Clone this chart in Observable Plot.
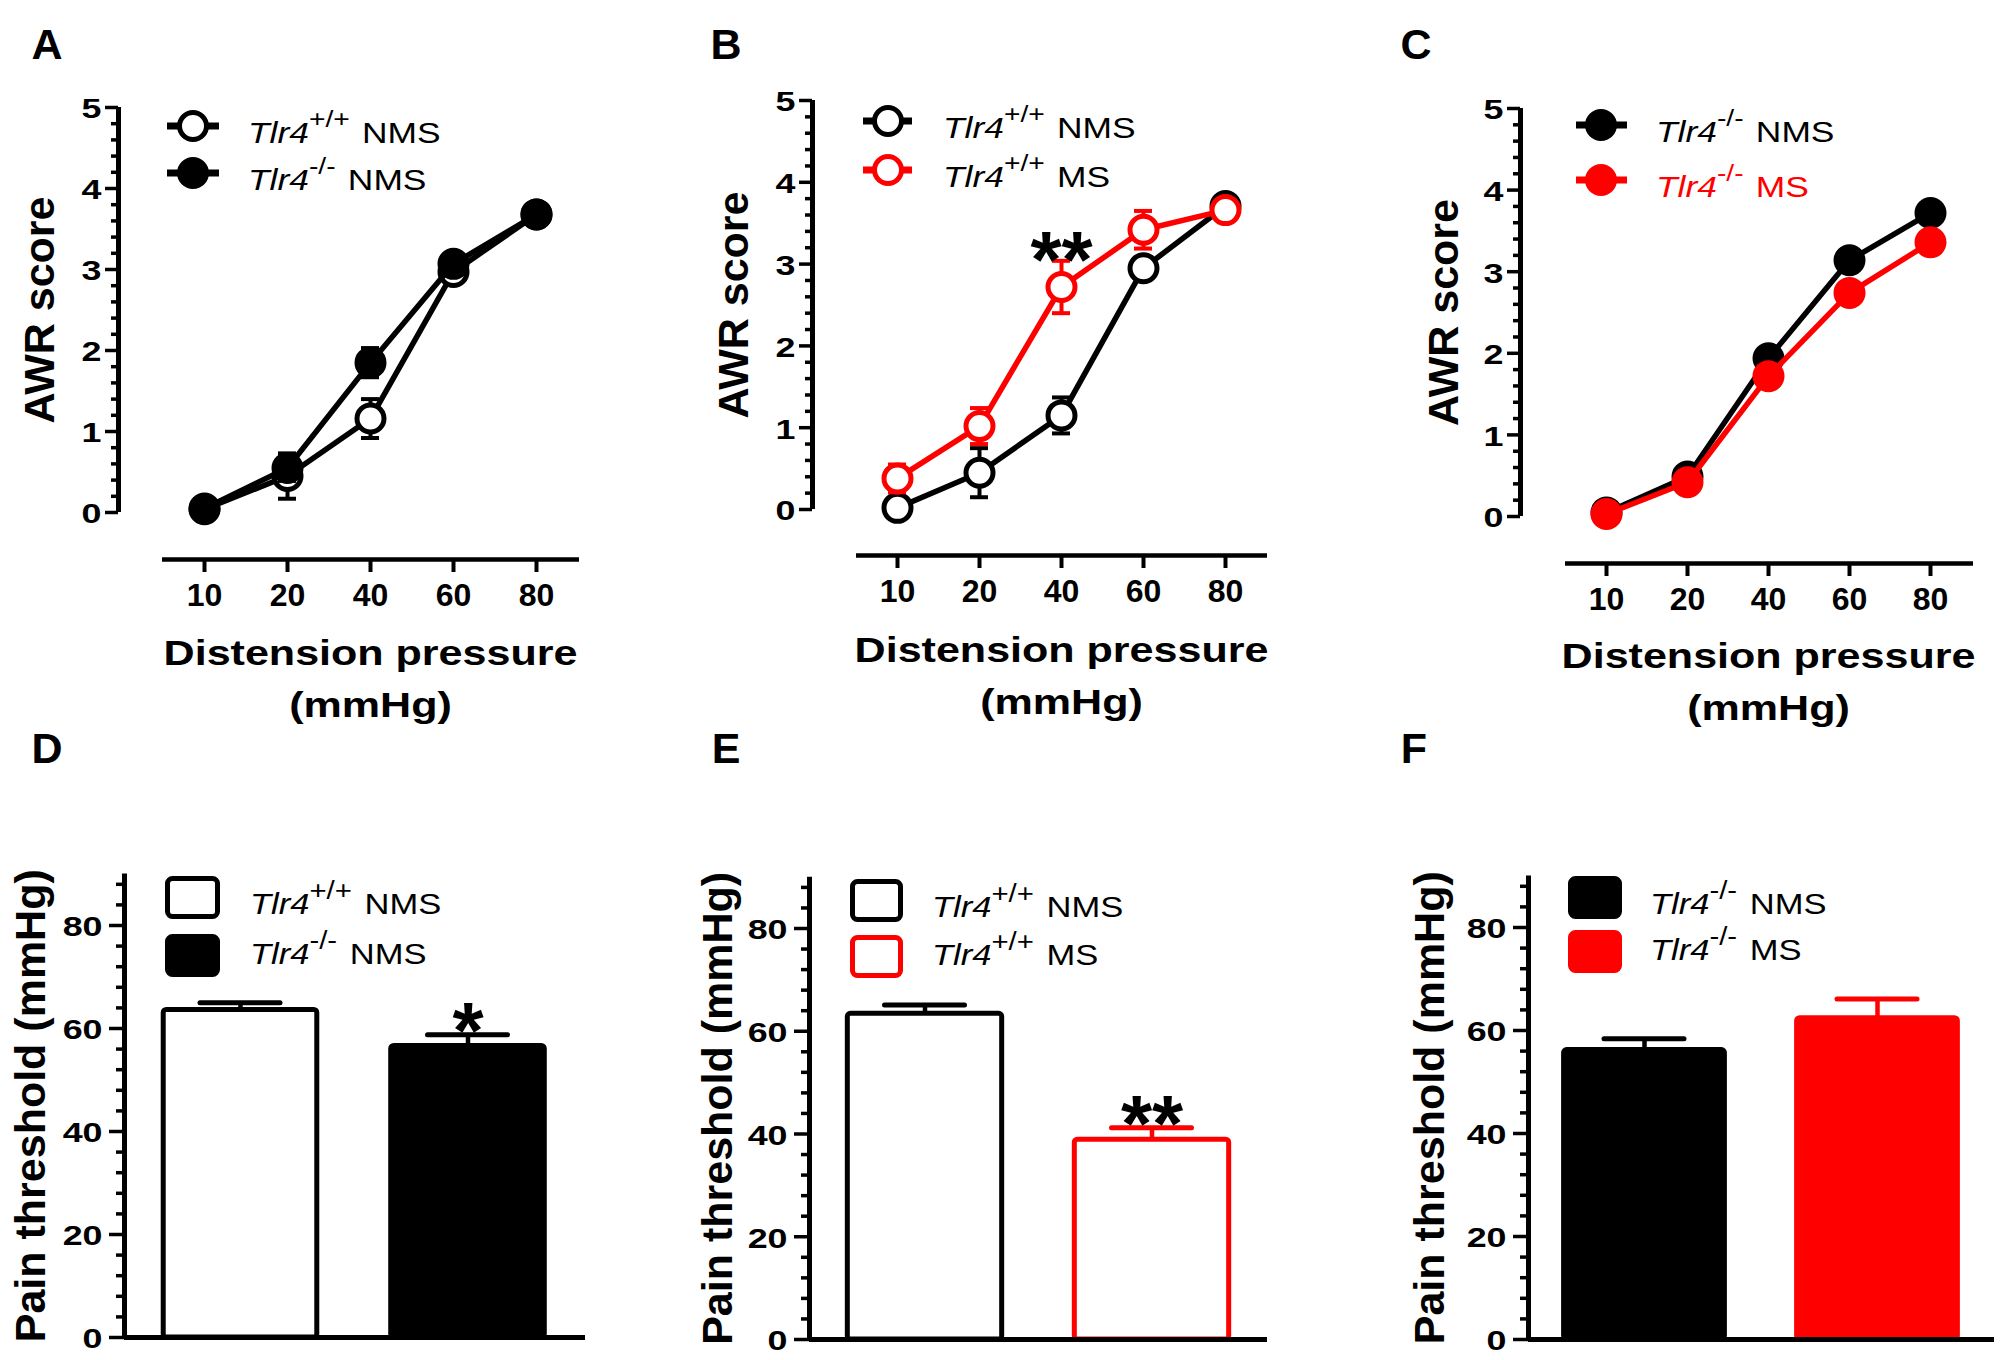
<!DOCTYPE html>
<html>
<head>
<meta charset="utf-8">
<script src="https://cdn.jsdelivr.net/npm/d3@7"></script>
<script src="https://cdn.jsdelivr.net/npm/@observablehq/plot@0.6"></script>
<style>
html, body { margin: 0; padding: 0; background: #fff; }
#fig { position: relative; width: 2005px; height: 1360px; overflow: hidden; background: #fff;
  font-family: "Liberation Sans", Arial, Helvetica, sans-serif; color: #000; }
.panel { position: absolute; }
.letter { position: absolute; font-weight: bold; font-size: 43px; line-height: 1; transform: translate(-50%, -50%); }
.leg-text { position: absolute; line-height: 1; white-space: nowrap; transform-origin: 0 50%; }
.leg-text i { font-style: italic; }
.leg-text sup { line-height: 0; }
</style>
</head>
<body>
<div id="fig"></div>
<script>
// ---------------- data ----------------
const pressures = ["10", "20", "40", "60", "80"];

// Panel A
const aWtNMS    = [0.04, 0.45, 1.16, 2.97, 3.68];
const aWtNMSErr = [0.03, 0.28, 0.24, 0.08, 0.07];
const aKoNMS    = [0.05, 0.55, 1.85, 3.07, 3.68];
const aKoNMSErr = [0.03, 0.16, 0.18, 0.10, 0.07];

// Panel B
const bWtNMS    = [0.02, 0.45, 1.15, 2.95, 3.71];
const bWtNMSErr = [0.02, 0.30, 0.22, 0.10, 0.06];
const bWtMS     = [0.38, 1.02, 2.72, 3.42, 3.66];
const bWtMSErr  = [0.17, 0.22, 0.32, 0.23, 0.06];

// Panel C
const cKoNMS    = [0.05, 0.49, 1.94, 3.14, 3.72];
const cKoNMSErr = [0.03, 0.08, 0.10, 0.10, 0.08];
const cKoMS     = [0.03, 0.42, 1.72, 2.74, 3.36];
const cKoMSErr  = [0.02, 0.08, 0.10, 0.12, 0.10];

// Panels D-F (pain threshold, mmHg)
const dThreshold = [63.6, 56.6];
const dErr       = [1.4, 2.2];
const eThreshold = [63.4, 38.9];
const eErr       = [1.7, 2.3];
const fThreshold = [56.2, 62.4];
const fErr       = [2.2, 3.7];

const yTicksAWR = [0, 1, 2, 3, 4, 5];
const yTicksPain = [0, 20, 40, 60, 80];

const BLACK = "#000000", RED = "#ff0000";

const gWtNMS = {geno: "+/+", cond: "NMS"};
const gKoNMS = {geno: "-/-", cond: "NMS"};
const gWtMS  = {geno: "+/+", cond: "MS"};
const gKoMS  = {geno: "-/-", cond: "MS"};

// ---------------- helpers ----------------
const fig = document.getElementById("fig");
const FONT = '"Liberation Sans", Arial, Helvetica, sans-serif';
const baseStyle = {fontFamily: FONT, fontSize: "32px", fontWeight: "bold", background: "transparent",
  overflow: "visible", maxWidth: "none", color: "#000"};

// horizontally widen the text of the text marks drawn at a given (unique) font size
function stretch(svg, fontSize, sx) {
  svg.querySelectorAll(`g[font-size="${fontSize}"] text`).forEach(t => {
    const tr = t.getAttribute("transform") || "";
    t.setAttribute("transform", `${tr} scale(${sx},1)`);
  });
}
function addPlot(svg, left, top) {
  const wrap = document.createElement("div");
  wrap.className = "panel";
  wrap.style.left = left + "px";
  wrap.style.top = top + "px";
  wrap.appendChild(svg);
  fig.appendChild(wrap);
}
function addLetter(ch, x, y) {
  const d = document.createElement("div");
  d.className = "letter";
  d.textContent = ch;
  d.style.left = x + "px";
  d.style.top = y + "px";
  fig.appendChild(d);
}
function legendText(g, x, y, color, T) {
  const d = document.createElement("div");
  d.className = "leg-text";
  d.style.left = x + "px";
  d.style.top = y + "px";
  d.style.color = color;
  d.style.fontSize = T.size + "px";
  d.style.transform = `translateY(-50%) scaleX(${T.sx})`;
  d.innerHTML = `<i>Tlr4</i><sup style="font-size:${T.sup}em;vertical-align:${T.raise}px;margin-right:${T.gap}px">${g.geno}</sup>${g.cond}`;
  fig.appendChild(d);
}
const topLegendText = {size: 29, sx: 1.22, sup: 0.8, raise: 16, gap: 10};
const botLegendText = {size: 30, sx: 1.15, sup: 0.85, raise: 15, gap: 11};

function lineLegend(series, L) {
  series.forEach((s, k) => {
    const y = L.rows[k];
    const w = L.marker[1] - L.marker[0];
    const cx = L.circle - L.marker[0] + 3;
    fig.insertAdjacentHTML("beforeend",
      `<svg width="${w + 6}" height="40" style="position:absolute;left:${L.marker[0] - 3}px;top:${y - 20}px;overflow:visible">
        <line x1="3" x2="${w + 3}" y1="20" y2="20" stroke="${s.color}" stroke-width="7"/>
        <circle cx="${cx}" cy="20" r="13.5" fill="${s.open ? "#fff" : s.color}" stroke="${s.color}" stroke-width="5"/>
      </svg>`);
    legendText(s.group, L.text, L.textRows[k], s.textColor, topLegendText);
  });
}
function barLegend(bars, L) {
  bars.forEach((b, k) => {
    const y = L.rows[k];
    const w = L.square[1] - L.square[0], h = 43;
    fig.insertAdjacentHTML("beforeend",
      `<svg width="${w}" height="${h}" style="position:absolute;left:${L.square[0]}px;top:${y - h / 2}px">
        <rect x="2.5" y="2.5" width="${w - 5}" height="${h - 5}" rx="5" ry="5" fill="${b.fill}" stroke="${b.stroke}" stroke-width="5"/>
      </svg>`);
    legendText(b.group, L.text, L.textRows[k], "#000", botLegendText);
  });
}

const Y_TICK_FONT = 28, Y_TICK_SX = 1.28;

// ---------------- line panels (A-C) ----------------
function linePanel(cfg) {
  const {left, top, width, height, axisX, x0, step, xStart, xEnd, y5, y0, xAxisY, series, sig, yLabelX, title1Y, title2Y} = cfg;
  const xmin = (axisX - x0) / step, xmax = (xEnd - x0) / step, xs = (xStart - x0) / step;
  const unit = (y0 - y5) / 5;
  const ymin = -(xAxisY - y0) / unit;
  const cap = 9 / step;
  const minor = d3.range(0, 5.001, 0.2).filter(v => Math.abs(v - Math.round(v)) > 1e-6);
  const mid = (pressures.length - 1) / 2;
  const marks = [
    Plot.ruleX([xmin], {y1: 0, y2: 5, stroke: BLACK, strokeWidth: 5}),
    Plot.axisY({ticks: minor, tickSize: 7, strokeWidth: 3.5, tickFormat: () => "", label: null}),
    Plot.axisY({ticks: yTicksAWR, tickSize: 13, strokeWidth: 3.5, tickFormat: () => "", label: null}),
    Plot.text(yTicksAWR, {x: xmin, y: d => d, text: d => String(d), textAnchor: "end", dx: -17, dy: 2,
      fontSize: Y_TICK_FONT, fontWeight: "bold"}),
    Plot.ruleY([ymin], {x1: xs, x2: xmax, stroke: BLACK, strokeWidth: 4.5}),
    Plot.axisX({ticks: d3.range(pressures.length), tickFormat: i => pressures[i], tickSize: 13, tickPadding: 11,
      strokeWidth: 4, fontSize: 32, fontWeight: "bold", label: null}),
    Plot.text(["AWR score"], {x: xmin, y: 2.5, dx: yLabelX - axisX, rotate: -90, text: d => d,
      fontSize: 43, fontWeight: "bold"}),
    Plot.text(["Distension pressure"], {x: mid, y: ymin, dy: title1Y - xAxisY + 1, text: d => d,
      fontSize: 35, fontWeight: "bold"}),
    Plot.text(["(mmHg)"], {x: mid, y: ymin, dy: title2Y - xAxisY + 1, text: d => d,
      fontSize: 35, fontWeight: "bold"})
  ];
  for (const s of series) {
    const data = s.values.map((v, i) => ({i, v, e: s.err[i]}));
    marks.push(
      Plot.line(data, {x: "i", y: "v", stroke: s.color, strokeWidth: 5.5}),
      Plot.ruleX(data, {x: "i", y1: d => d.v - d.e, y2: d => d.v + d.e, stroke: s.color, strokeWidth: 4}),
      Plot.ruleY(data, {x1: d => d.i - cap, x2: d => d.i + cap, y: d => d.v + d.e, stroke: s.color, strokeWidth: 4}),
      Plot.ruleY(data, {x1: d => d.i - cap, x2: d => d.i + cap, y: d => d.v - d.e, stroke: s.color, strokeWidth: 4}),
      Plot.dot(data, {x: "i", y: "v", r: 13.5, stroke: s.color, strokeWidth: 5, fill: s.open ? "#ffffff" : s.color})
    );
  }
  if (sig) marks.push(Plot.text(sig, {x: "i", y: "y", text: "label", fontSize: 80, fontWeight: "bold", dy: 1}));
  const chart = Plot.plot({
    width, height,
    marginLeft: axisX - left, marginRight: left + width - xEnd,
    marginTop: y5 - top, marginBottom: top + height - xAxisY,
    x: {type: "linear", domain: [xmin, xmax], axis: null},
    y: {type: "linear", domain: [ymin, 5], axis: null},
    style: baseStyle,
    marks
  });
  stretch(chart, Y_TICK_FONT, Y_TICK_SX);
  stretch(chart, 35, 1.23);
  addPlot(chart, left, top);
}

// ---------------- bar panels (D-F) ----------------
function barPanel(cfg) {
  const {left, top, width, height, axisX, c0, step, xEnd, y0, y80, bars, sig, yLabelX, bw} = cfg;
  const xmin = (axisX - c0) / step, xmax = (xEnd - c0) / step;
  const unit = (y0 - y80) / 80;
  const yTop = 90;
  const cap = 40 / step;
  const minor = d3.range(4, yTop, 4).filter(v => v % 20 !== 0);
  const data = bars.map((b, i) => ({i, v: b.value, e: b.err, fill: b.fill, stroke: b.stroke}));
  const marks = [
    Plot.ruleX([xmin], {y1: 0, y2: yTop, stroke: BLACK, strokeWidth: 5}),
    Plot.axisY({ticks: minor, tickSize: 8, strokeWidth: 3.5, tickFormat: () => "", label: null}),
    Plot.axisY({ticks: yTicksPain, tickSize: 15, strokeWidth: 3.5, tickFormat: () => "", label: null}),
    Plot.text(yTicksPain, {x: xmin, y: d => d, text: d => String(d), textAnchor: "end", dx: -22, dy: 2,
      fontSize: Y_TICK_FONT, fontWeight: "bold"}),
    Plot.rectY(data, {x1: d => d.i - bw / 2, x2: d => d.i + bw / 2, y1: 0, y2: "v", rx: 3,
      fill: d => d.fill, stroke: d => d.stroke, strokeWidth: 5}),
    Plot.ruleX(data, {x: "i", y1: "v", y2: d => d.v + d.e, stroke: d => d.stroke, strokeWidth: 4.5}),
    Plot.ruleY(data, {x1: d => d.i - cap, x2: d => d.i + cap, y: d => d.v + d.e, stroke: d => d.stroke,
      strokeWidth: 5, strokeLinecap: "round"}),
    Plot.ruleY([0], {x1: xmin, x2: xmax, stroke: BLACK, strokeWidth: 5}),
    Plot.text(["Pain threshold (mmHg)"], {x: xmin, y: yTop / 2, dx: yLabelX - axisX, rotate: -90, text: d => d,
      fontSize: 43, fontWeight: "bold"})
  ];
  if (sig) marks.push(Plot.text(sig, {x: "i", y: "y", text: "label", fontSize: 80, fontWeight: "bold", dy: -2}));
  const chart = Plot.plot({
    width, height,
    marginLeft: axisX - left, marginRight: left + width - xEnd,
    marginTop: (y0 - yTop * unit) - top, marginBottom: top + height - y0,
    x: {type: "linear", domain: [xmin, xmax], axis: null},
    y: {type: "linear", domain: [0, yTop], axis: null},
    style: baseStyle,
    marks
  });
  stretch(chart, Y_TICK_FONT, Y_TICK_SX);
  addPlot(chart, left, top);
}

// ---------------- assemble ----------------
const seriesA = [
  {group: gWtNMS, values: aWtNMS, err: aWtNMSErr, color: BLACK, open: true, textColor: BLACK},
  {group: gKoNMS, values: aKoNMS, err: aKoNMSErr, color: BLACK, open: false, textColor: BLACK}
];
const seriesB = [
  {group: gWtNMS, values: bWtNMS, err: bWtNMSErr, color: BLACK, open: true, textColor: BLACK},
  {group: gWtMS, values: bWtMS, err: bWtMSErr, color: RED, open: true, textColor: BLACK}
];
const seriesC = [
  {group: gKoNMS, values: cKoNMS, err: cKoNMSErr, color: BLACK, open: false, textColor: BLACK},
  {group: gKoMS, values: cKoMS, err: cKoMSErr, color: RED, open: false, textColor: RED}
];
const barsD = [
  {group: gWtNMS, value: dThreshold[0], err: dErr[0], fill: "#ffffff", stroke: BLACK},
  {group: gKoNMS, value: dThreshold[1], err: dErr[1], fill: BLACK, stroke: BLACK}
];
const barsE = [
  {group: gWtNMS, value: eThreshold[0], err: eErr[0], fill: "#ffffff", stroke: BLACK},
  {group: gWtMS, value: eThreshold[1], err: eErr[1], fill: "#ffffff", stroke: RED}
];
const barsF = [
  {group: gKoNMS, value: fThreshold[0], err: fErr[0], fill: BLACK, stroke: BLACK},
  {group: gKoMS, value: fThreshold[1], err: fErr[1], fill: RED, stroke: RED}
];

linePanel({left: 0, top: 0, width: 660, height: 730, axisX: 118, x0: 204, step: 83, xStart: 162, xEnd: 579,
  y5: 107, y0: 512, xAxisY: 559, series: seriesA, yLabelX: 40, title1Y: 652, title2Y: 704});
linePanel({left: 680, top: 0, width: 660, height: 730, axisX: 812, x0: 897, step: 82, xStart: 856, xEnd: 1267,
  y5: 100, y0: 509, xAxisY: 555, series: seriesB, yLabelX: 734, title1Y: 649, title2Y: 701,
  sig: [{i: 2, y: bWtMS[2] + bWtMSErr[2], label: "**"}]});
linePanel({left: 1360, top: 0, width: 645, height: 730, axisX: 1520, x0: 1606, step: 81, xStart: 1565, xEnd: 1973,
  y5: 108, y0: 516, xAxisY: 563, series: seriesC, yLabelX: 1444, title1Y: 655, title2Y: 707});

barPanel({left: 0, top: 730, width: 660, height: 630, axisX: 124, c0: 240, step: 227.5, xEnd: 585,
  y0: 1337, y80: 925, bars: barsD, yLabelX: 31, bw: 0.675,
  sig: [{i: 1, y: dThreshold[1] + dErr[1], label: "*"}]});
barPanel({left: 680, top: 730, width: 660, height: 630, axisX: 809, c0: 924.5, step: 227, xEnd: 1267,
  y0: 1339, y80: 928, bars: barsE, yLabelX: 718, bw: 0.68,
  sig: [{i: 1, y: eThreshold[1] + eErr[1], label: "**"}]});
barPanel({left: 1360, top: 730, width: 645, height: 630, axisX: 1528, c0: 1644, step: 233, xEnd: 1994,
  y0: 1339, y80: 927, bars: barsF, yLabelX: 1430, bw: 0.69});

lineLegend(seriesA, {marker: [167, 219], circle: 193, rows: [126, 173], textRows: [133, 180], text: 248});
lineLegend(seriesB, {marker: [863, 912], circle: 888, rows: [121, 170], textRows: [128, 177], text: 943});
lineLegend(seriesC, {marker: [1576, 1627], circle: 1601, rows: [125, 180], textRows: [132, 187], text: 1656});
barLegend(barsD, {square: [165, 220], rows: [897, 955], textRows: [904, 954], text: 250});
barLegend(barsE, {square: [850, 903], rows: [900, 956], textRows: [907, 955], text: 932});
barLegend(barsF, {square: [1568, 1622], rows: [897, 951], textRows: [904, 950], text: 1650});

addLetter("A", 47, 44);
addLetter("B", 726, 44);
addLetter("C", 1416, 44);
addLetter("D", 47, 748);
addLetter("E", 726, 748);
addLetter("F", 1414, 748);
</script>
</body>
</html>
